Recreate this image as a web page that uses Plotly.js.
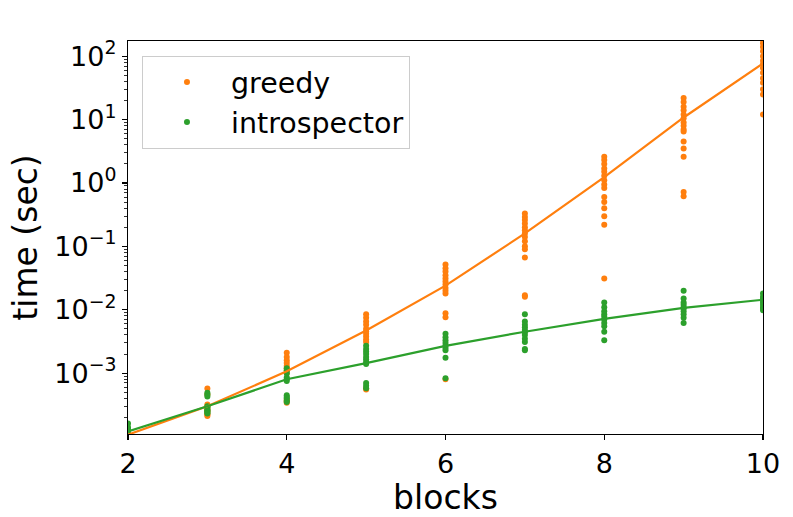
<!DOCTYPE html>
<html>
<head>
<meta charset="utf-8">
<script src="https://cdn.plot.ly/plotly-3.0.1.min.js"></script>
<style>html,body{margin:0;padding:0;background:#fff;}#chart{width:793px;height:517px;}</style>
</head>
<body>
<div id="chart"></div>
<script>
// ---- data ----
var blocks = [2, 3, 4, 5, 6, 7, 8, 9, 10];

var greedyTimes = [
  [1.1e-4, 1.05e-4, 1.0e-4],
  [5.7e-4, 4.6e-4, 3.2e-4, 3.0e-4, 2.8e-4, 2.6e-4, 2.5e-4, 2.3e-4, 2.2e-4, 2.1e-4],
  [2.1e-3, 1.8e-3, 1.6e-3, 1.45e-3, 1.3e-3, 1.2e-3, 1.1e-3, 1.0e-3, 3.8e-4, 3.6e-4, 3.4e-4],
  [8.5e-3, 7.5e-3, 6.5e-3, 5.8e-3, 5.0e-3, 4.6e-3, 4.2e-3, 3.8e-3, 3.4e-3, 3.1e-3, 5.8e-4, 5.5e-4],
  [0.052, 0.045, 0.04, 0.035, 0.031, 0.028, 0.025, 0.022, 0.02, 0.018, 0.0088, 0.0076, 0.0008],
  [0.33, 0.29, 0.26, 0.23, 0.2, 0.18, 0.16, 0.14, 0.12, 0.1, 0.09, 0.067, 0.017, 0.016],
  [2.6, 2.3, 2.0, 1.7, 1.5, 1.3, 1.1, 0.95, 0.83, 0.6, 0.5, 0.4, 0.3, 0.22, 0.031],
  [22, 19, 16, 14, 12, 10.5, 9, 8, 7, 6.5, 4.5, 3.5, 2.6, 0.72, 0.62],
  [180, 160, 140, 120, 100, 85, 75, 65, 55, 45, 38, 30, 25, 12]
];

var introTimes = [
  [1.6e-4, 1.4e-4, 1.3e-4, 1.2e-4, 1.1e-4],
  [4.9e-4, 4.6e-4, 4.3e-4, 3.0e-4, 2.9e-4, 2.7e-4, 2.6e-4, 2.5e-4, 2.4e-4, 2.3e-4],
  [1.2e-3, 1.1e-3, 1.0e-3, 8.5e-4, 8.0e-4, 7.5e-4, 4.5e-4, 4.2e-4, 4.0e-4, 3.7e-4, 3.5e-4],
  [2.7e-3, 2.4e-3, 2.2e-3, 2.0e-3, 1.8e-3, 1.65e-3, 1.5e-3, 1.4e-3, 7.0e-4, 6.3e-4, 5.8e-4],
  [4.2e-3, 3.7e-3, 3.3e-3, 3.0e-3, 2.7e-3, 2.5e-3, 2.3e-3, 1.75e-3, 8.3e-4],
  [8.5e-3, 6.5e-3, 5.8e-3, 5.3e-3, 4.8e-3, 4.4e-3, 4.0e-3, 3.5e-3, 3.1e-3, 2.4e-3, 2.3e-3],
  [0.013, 0.011, 0.0095, 0.0085, 0.0078, 0.007, 0.0062, 0.0055, 0.0045, 0.0033],
  [0.02, 0.015, 0.013, 0.012, 0.011, 0.0105, 0.0095, 0.0085, 0.0075, 0.0062],
  [0.018, 0.016, 0.015, 0.014, 0.013, 0.012, 0.011, 0.0105, 0.0098]
];

var greedyFit = [1.07e-4, 3.0e-4, 1.07e-3, 4.7e-3, 0.024, 0.16, 1.24, 10.8, 77];
var introFit  = [1.2e-4, 3.0e-4, 8.0e-4, 1.44e-3, 2.7e-3, 4.5e-3, 7.2e-3, 0.0107, 0.0144];

var xTickVals = [2, 4, 6, 8, 10];
var yTickVals = [1e-3, 1e-2, 1e-1, 1, 10, 100];
var yTickText = ['10<sup>\u22123</sup>', '10<sup>\u22122</sup>', '10<sup>\u22121</sup>',
                 '10<sup>0</sup>', '10<sup>1</sup>', '10<sup>2</sup>'];
var seriesNames = ['greedy', 'introspector'];

// ---- build traces ----
function flatten(times) {
  var xs = [], ys = [];
  times.forEach(function (arr, i) {
    arr.forEach(function (v) { xs.push(blocks[i]); ys.push(v); });
  });
  return {x: xs, y: ys};
}
var g = flatten(greedyTimes), it = flatten(introTimes);

var orange = '#ff7f0e', green = '#2ca02c';

var minorVals = [];
for (var e = -4; e <= 2; e++) {
  for (var m = 2; m <= 9; m++) minorVals.push(m * Math.pow(10, e));
}

var traces = [
  {x: g.x, y: g.y, mode: 'markers', type: 'scatter', name: seriesNames[0],
   marker: {color: orange, size: 6}},
  {x: it.x, y: it.y, mode: 'markers', type: 'scatter', name: seriesNames[1],
   marker: {color: green, size: 6}},
  {x: blocks, y: greedyFit, mode: 'lines', type: 'scatter', showlegend: false,
   line: {color: orange, width: 2.2}},
  {x: blocks, y: introFit, mode: 'lines', type: 'scatter', showlegend: false,
   line: {color: green, width: 2.2}}
];

var font = 'DejaVu Sans, sans-serif';
var layout = {
  width: 793, height: 517,
  margin: {l: 128, r: 30, t: 41, b: 83, pad: 0},
  paper_bgcolor: '#fff', plot_bgcolor: '#fff',
  font: {family: font, color: '#000', size: 27},
  showlegend: true,
  legend: {
    x: 0.022, y: 0.962, xanchor: 'left', yanchor: 'top',
    bgcolor: 'rgba(255,255,255,0.8)', bordercolor: '#cccccc', borderwidth: 1,
    font: {family: font, size: 28.5, color: '#000'},
    itemwidth: 78, tracegroupgap: 0
  },
  xaxis: {
    range: [2, 10], tickmode: 'array', tickvals: xTickVals,
    showgrid: false, zeroline: false,
    showline: true, linecolor: '#000', linewidth: 1.1, mirror: true,
    ticks: 'outside', ticklen: 5, tickwidth: 1.1, tickcolor: '#000',
    tickfont: {family: font, size: 27},
    title: {text: 'blocks', font: {family: font, size: 33}, standoff: 6}
  },
  yaxis: {
    type: 'log', range: [-3.96, 2.24],
    tickmode: 'array', tickvals: yTickVals, ticktext: yTickText,
    showgrid: false, zeroline: false,
    showline: true, linecolor: '#000', linewidth: 1.1, mirror: true,
    ticks: 'outside', ticklen: 5, tickwidth: 1.1, tickcolor: '#000',
    tickfont: {family: font, size: 27},
    minor: {tickmode: 'array', tickvals: minorVals, ticks: 'outside', ticklen: 2.5,
            tickwidth: 0.8, tickcolor: '#000', showgrid: false},
    title: {text: 'time (sec)', font: {family: font, size: 33}, standoff: 6}
  }
};

Plotly.newPlot('chart', traces, layout, {displayModeBar: false, staticPlot: true});
</script>
</body>
</html>
